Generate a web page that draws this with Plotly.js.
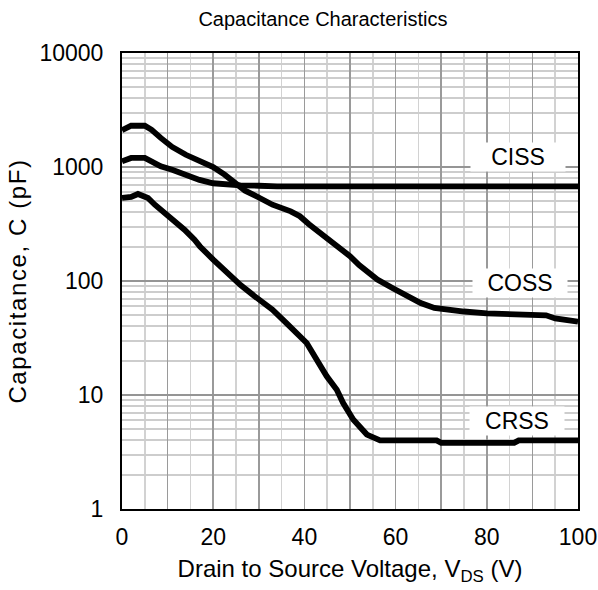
<!DOCTYPE html>
<html>
<head>
<meta charset="utf-8">
<script src="https://cdn.plot.ly/plotly-3.0.1.min.js"></script>
<style>html,body{margin:0;padding:0;background:#fff;}#chart{width:598px;height:590px;}</style>
</head>
<body>
<div id="chart"></div>
<script>
// Top curve (ends near 45 pF) – labelled COSS
const cossV = [0, 2, 5, 6.5, 8.5, 11, 14, 17, 20, 22.5, 25, 27, 30, 33, 37, 39, 41, 44, 47, 50, 52, 56, 59.5, 62.5, 65.5, 68.5, 71, 75, 80, 85, 90, 93, 95, 97.5, 100];
const cossC = [2100, 2300, 2300, 2120, 1800, 1500, 1280, 1120, 1000, 857, 720, 620, 540, 467, 408, 370, 315, 255, 208, 165, 138, 103, 86, 73, 64, 58, 56, 54, 52, 51, 50, 50, 47, 45, 44];

// Middle curve (flattens near 680 pF) – labelled CISS
const cissV = [0, 2, 5, 6.5, 8.5, 11, 14, 17, 20, 23, 26, 30, 34, 100];
const cissC = [1120, 1200, 1200, 1120, 1015, 945, 855, 770, 720, 700, 690, 685, 675, 675];

// Bottom curve (flattens near 4 pF) – labelled CRSS
const crssV = [0, 2, 3.5, 4.6, 5.7, 7.2, 9.4, 11.6, 13.7, 15.9, 17.1, 20, 23, 26, 29, 31, 33, 36, 39, 40.5, 42.7, 44.9, 47.1, 48.5, 50.7, 53.7, 56.6, 69, 70, 86, 87, 100];
const crssC = [535, 546, 580, 561, 535, 467, 395, 334, 282, 230, 201, 154, 117, 92, 74, 65, 56, 43, 33, 28.6, 20.4, 14.6, 11.1, 8.5, 6.1, 4.5, 4.0, 4.0, 3.8, 3.8, 4.0, 4.0];

const xTickVals = [0, 10, 20, 30, 40, 50, 60, 70, 80, 90, 100];
const xTickText = ['0', '', '20', '', '40', '', '60', '', '80', '', '100'];
const yTickVals = [1, 10, 100, 1000, 10000];
const yTickText = ['1', '10', '100', '1000', '10000'];

const seriesNames = ['CISS', 'COSS', 'CRSS'];
// label anchor points (V, pF)
const labelV = [86.8, 87.2, 86.6];
const labelC = [1224, 96, 5.9];

const FONT = '"Liberation Sans", Arial, sans-serif';
const lineStyle = {color: '#000', width: 5.8};

const traces = [
  {x: cissV, y: cissC, name: seriesNames[0], mode: 'lines', line: lineStyle},
  {x: cossV, y: cossC, name: seriesNames[1], mode: 'lines', line: lineStyle},
  {x: crssV, y: crssC, name: seriesNames[2], mode: 'lines', line: lineStyle}
];

const annotations = seriesNames.map((txt, i) => ({
  x: labelV[i], y: Math.log10(labelC[i]), xref: 'x', yref: 'y',
  text: txt, showarrow: false,
  bgcolor: '#fff', width: 92, height: 26,
  font: {family: FONT, size: 23, color: '#000'}
}));

const layout = {
  width: 598, height: 590,
  margin: {l: 122, r: 20, t: 53, b: 81},
  paper_bgcolor: '#fff', plot_bgcolor: '#fff',
  showlegend: false,
  font: {family: FONT, color: '#000'},
  title: {
    text: 'Capacitance Characteristics',
    font: {family: FONT, size: 20, color: '#000'},
    x: 0.54, xref: 'container', xanchor: 'center',
    y: 0.967, yref: 'container', yanchor: 'middle'
  },
  xaxis: {
    range: [0, 100], tickmode: 'array', tickvals: xTickVals, ticktext: xTickText,
    showgrid: true, gridcolor: '#9a9a9a', gridwidth: 1.5,
    minor: {tickmode: 'linear', dtick: 5, showgrid: true, gridcolor: '#d2d2d2', gridwidth: 1.5},
    showline: true, linecolor: '#000', linewidth: 2, mirror: true,
    ticks: '', zeroline: false,
    tickfont: {family: FONT, size: 23, color: '#000'},
    ticklabelstandoff: 6,
    title: {text: 'Drain to Source Voltage, V<sub>DS</sub> (V)', font: {family: FONT, size: 24, color: '#000'}, standoff: 12}
  },
  yaxis: {
    type: 'log', range: [0, 4], tickmode: 'array', tickvals: yTickVals, ticktext: yTickText,
    showgrid: true, gridcolor: '#959595', gridwidth: 2,
    minor: {tickmode: 'linear', dtick: 'D1', showgrid: true, gridcolor: '#cdcdcd', gridwidth: 2},
    showline: true, linecolor: '#000', linewidth: 2, mirror: true,
    ticks: '', zeroline: false,
    tickfont: {family: FONT, size: 23, color: '#000'},
    ticklabelstandoff: 12,
    title: {text: '<span style="letter-spacing:1.6px">Capacitance, C (pF)</span>', font: {family: FONT, size: 24, color: '#000'}, standoff: 6}
  },
  annotations: annotations
};

Plotly.newPlot('chart', traces, layout, {displayModeBar: false, staticPlot: true});
</script>
</body>
</html>
